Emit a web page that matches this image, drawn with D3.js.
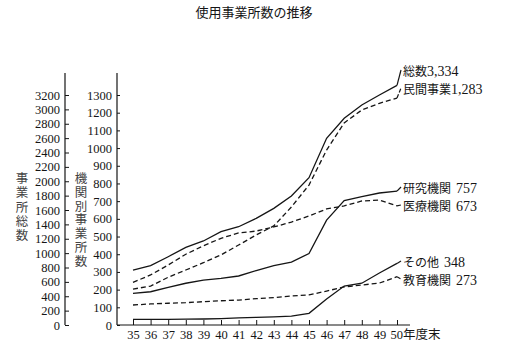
<!DOCTYPE html>
<html><head><meta charset="utf-8">
<script src="https://cdn.jsdelivr.net/npm/d3@7"></script>
<style>body{margin:0;background:#fff}</style>
</head><body><svg id="c" width="514" height="355"></svg>
<script>
const title = "使用事業所数の推移";
const years = [35,36,37,38,39,40,41,42,43,44,45,46,47,48,49,50];
const total     = [765, 825, 950, 1081, 1169, 1298, 1367, 1484, 1623, 1795, 2050, 2598, 2876, 3061, 3200, 3334];
const privateS  = [203, 220, 270, 311, 352, 396, 452, 509, 560, 667, 791, 989, 1142, 1215, 1253, 1283];
const research  = [179, 188, 213, 236, 254, 264, 277, 308, 336, 356, 404, 593, 703, 726, 746, 757];
const medical   = [241, 283, 339, 400, 448, 490, 520, 531, 554, 582, 616, 656, 673, 701, 706, 673];
const education = [113, 119, 123, 126, 132, 137, 141, 149, 155, 164, 170, 192, 215, 226, 237, 273];
const other     = [32, 32, 32, 33, 34, 36, 40, 43, 46, 50, 66, 147, 220, 236, 294, 348];
const outerTicks = d3.range(0, 3201, 200);
const innerTicks = d3.range(0, 1301, 100);
const outerTitle = "事業所総数";
const innerTitle = "機関別事業所数";
const xSuffix = "年度末";
const seriesNames = ["総数", "民間事業", "研究機関", "医療機関", "その他", "教育機関"];
const seriesEnd = ["3,334", "1,283", " 757", " 673", " 348", " 273"];
const seriesVals = [total, privateS, research, medical, other, education];
const seriesAxis = ["outer", "inner", "inner", "inner", "inner", "inner"];
const seriesDash = [false, true, false, true, false, true];
const labelY = [70, 88, 187, 205, 261, 279];

const svg = d3.select("#c");
const ink = "#151515";
const x = d3.scaleLinear().domain([35, 50]).range([133, 397]);
const yOuter = d3.scaleLinear().domain([0, 3200]).range([325, 95]);
const yInner = d3.scaleLinear().domain([0, 1300]).range([325, 95]);

svg.append("text").attr("x", 254).attr("y", 17).attr("text-anchor", "middle")
  .attr("font-family", "Noto Sans CJK JP").attr("font-size", 13).attr("fill", ink).text(title);

function styleAxis(g) {
  g.select(".domain").remove();
  g.selectAll(".tick line").attr("stroke", ink).attr("stroke-width", 1);
  g.selectAll(".tick text").attr("font-family", "Liberation Serif, Noto Sans CJK JP")
    .attr("font-size", 12.5).attr("fill", ink);
}

const gO = svg.append("g").attr("transform", "translate(65,0)")
  .call(d3.axisLeft(yOuter).tickValues(outerTicks).tickSize(-4).tickPadding(5).tickFormat(d3.format("d")));
styleAxis(gO);
gO.append("line").attr("x1", 0).attr("x2", 0).attr("y1", 73).attr("y2", 325).attr("stroke", ink).attr("stroke-width", 1.2);

const gI = svg.append("g").attr("transform", "translate(117,0)")
  .call(d3.axisLeft(yInner).tickValues(innerTicks).tickSize(-3).tickPadding(5).tickFormat(d3.format("d")));
styleAxis(gI);
gI.append("line").attr("x1", 0).attr("x2", 0).attr("y1", 73).attr("y2", 325).attr("stroke", ink).attr("stroke-width", 1.2);

const gX = svg.append("g").attr("transform", "translate(0,325)")
  .call(d3.axisBottom(x).tickValues(years).tickSize(-5).tickPadding(5));
styleAxis(gX);
gX.append("line").attr("x1", 117).attr("x2", 410).attr("y1", 0).attr("y2", 0).attr("stroke", ink).attr("stroke-width", 1.2);
gX.selectAll(".tick").filter(d => d === 50).select("text")
  .attr("text-anchor", "start").attr("x", -7).text("50" + xSuffix);

// vertical axis titles (single text each, vertical writing)
function vtitle(str, cx, yTop, spacing) {
  svg.append("text").attr("x", cx).attr("y", yTop)
    .style("writing-mode", "vertical-rl").style("letter-spacing", spacing + "px")
    .attr("font-family", "Noto Sans CJK JP").attr("font-size", 12.5)
    .attr("fill", "#444").text(str);
}
vtitle(outerTitle, 22, 172, 1.8);
vtitle(innerTitle, 81, 172, 1.3);

// series
seriesVals.forEach((vals, k) => {
  const ys = seriesAxis[k] === "outer" ? yOuter : yInner;
  const line = d3.line().x((d, i) => x(years[i])).y(d => ys(d));
  svg.append("path").datum(vals).attr("d", line).attr("fill", "none")
    .attr("stroke", ink).attr("stroke-width", 1.3)
    .attr("stroke-dasharray", seriesDash[k] ? "5,3" : null);
  const last = vals[vals.length - 1];
  svg.append("line").attr("x1", x(50)).attr("y1", ys(last)).attr("x2", 401).attr("y2", labelY[k])
    .attr("stroke", ink).attr("stroke-width", 1.2).attr("stroke-dasharray", seriesDash[k] ? "4,2" : null);
  const t = svg.append("text").attr("x", 403).attr("y", labelY[k]).attr("dy", "0.36em").attr("fill", ink);
  t.append("tspan").attr("font-family", "Noto Sans CJK JP").attr("font-size", 12).text(seriesNames[k]);
  t.append("tspan").attr("font-family", "Liberation Serif").attr("font-size", 14)
    .attr("dx", seriesEnd[k].startsWith(" ") ? 5 : 0).text(seriesEnd[k].trim());
});
</script>
</body></html>
